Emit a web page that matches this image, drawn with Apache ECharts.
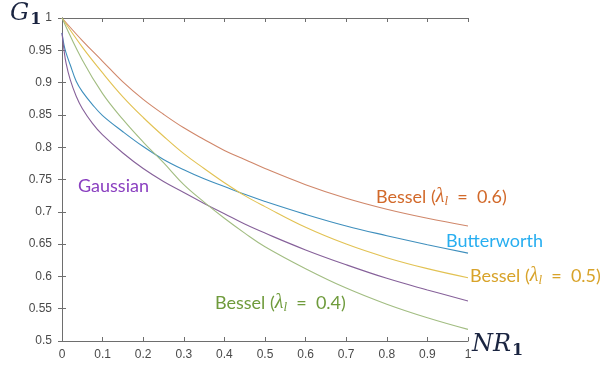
<!DOCTYPE html>
<html>
<head>
<meta charset="utf-8">
<script src="https://cdn.jsdelivr.net/npm/echarts@6/dist/echarts.min.js"></script>
<style>
html,body{margin:0;padding:0;background:#fff;}
#chart{width:611px;height:367px;}
</style>
</head>
<body>
<div id="chart"></div>
<script>
// x samples for curves that start at 1
var xA = [0, 0.05, 0.1, 0.15, 0.2, 0.25, 0.3, 0.35, 0.4, 0.45, 0.5, 0.6, 0.7, 0.8, 0.9, 1.0];
// x samples for curves with steep start
var xB = [0, 0.005, 0.01, 0.02, 0.035, 0.05, 0.075, 0.1, 0.15, 0.2, 0.25, 0.3, 0.35, 0.4, 0.45, 0.5, 0.6, 0.7, 0.8, 0.9, 1.0];

var besselP6 = [1, 0.965, 0.933, 0.901, 0.874, 0.851, 0.83, 0.812, 0.795, 0.781, 0.767, 0.742, 0.721, 0.704, 0.69, 0.678];
var besselP5 = [1, 0.955, 0.915, 0.878, 0.846, 0.817, 0.79, 0.767, 0.745, 0.725, 0.708, 0.676, 0.65, 0.629, 0.612, 0.598];
var besselP4 = [1, 0.935, 0.883, 0.843, 0.808, 0.776, 0.742, 0.715, 0.69, 0.667, 0.646, 0.612, 0.582, 0.557, 0.536, 0.518];
var butterworth = [0.977, 0.958, 0.946, 0.928, 0.902, 0.886, 0.866, 0.849, 0.824, 0.801, 0.781, 0.765, 0.751, 0.739, 0.727, 0.716, 0.696, 0.678, 0.663, 0.649, 0.636];
var gaussian = [0.977, 0.95, 0.93, 0.905, 0.879, 0.86, 0.837, 0.819, 0.791, 0.767, 0.747, 0.73, 0.713, 0.697, 0.681, 0.667, 0.641, 0.618, 0.597, 0.579, 0.562];

var xTicks = ['0','0.1','0.2','0.3','0.4','0.5','0.6','0.7','0.8','0.9','1'];
var yTicks = ['0.5','0.55','0.6','0.65','0.7','0.75','0.8','0.85','0.9','0.95','1'];

function pairs(xs, ys){ return xs.map(function(x,i){ return [x, ys[i]]; }); }

var chart = echarts.init(document.getElementById('chart'), null, {renderer:'canvas'});
var axisCol = '#6e6e6e';
var lblStyle = {color:'#4a4a4a', fontSize:12, fontFamily:'Liberation Sans, Arial, sans-serif'};

function mkLine(name, xs, ys, color){
  return {name:name, type:'line', xAxisIndex:0, yAxisIndex:0, data:pairs(xs, ys), showSymbol:false, symbol:'none',
    smooth:0.4, lineStyle:{color:color, width:1.1}, silent:true, animation:false};
}

function besselLabel(val, color){
  return {rich:{
    a:{fontFamily:'Lato, sans-serif', fontSize:18, fill:color},
    l:{fontFamily:'Liberation Serif, serif', fontStyle:'italic', fontSize:20, fill:color},
    s:{fontFamily:'Liberation Serif, serif', fontStyle:'italic', fontSize:13, fill:color, padding:[9,0,0,0]}
  }, text:'{a|Bessel (}{l|λ}{s|l}{a|  =  ' + val + ')}'};
}

var mathRich = {
  g:{fontFamily:'DejaVu Serif, serif', fontStyle:'italic', fontSize:24, fill:'#1a2440'},
  s:{fontFamily:'DejaVu Serif, serif', fontSize:16, fontWeight:'bold', fill:'#1a2440', padding:[12,0,0,1]}
};

var option = {
  animation:false,
  grid:{left:62, right:143, top:18, bottom:26},
  xAxis:[
    {type:'value', min:0, max:1, interval:0.1, position:'bottom',
     axisLine:{lineStyle:{color:axisCol, width:1}},
     axisTick:{inside:true, length:4, lineStyle:{color:axisCol}},
     splitLine:{show:false},
     axisLabel:Object.assign({margin:8, formatter:function(v){ var i=Math.round(v*10); return xTicks[i]||''; }}, lblStyle)},
    {type:'value', min:0, max:1, interval:0.1, position:'top',
     axisLine:{show:true, lineStyle:{color:axisCol, width:1}},
     axisTick:{show:true, inside:true, length:4, lineStyle:{color:axisCol}},
     splitLine:{show:false}, axisLabel:{show:false}}
  ],
  yAxis:[
    {type:'value', min:0.5, max:1, interval:0.05, position:'left',
     axisLine:{show:true, lineStyle:{color:axisCol, width:1}},
     axisTick:{show:true, inside:true, length:4, lineStyle:{color:axisCol}},
     splitLine:{show:false},
     axisLabel:Object.assign({margin:10, formatter:function(v){ var i=Math.round((v-0.5)/0.05); return yTicks[i]||''; }}, lblStyle)},
    {type:'value', min:0.5, max:1, interval:0.05, position:'right',
     axisLine:{show:true, lineStyle:{color:axisCol, width:1}},
     axisTick:{show:true, inside:true, length:4, lineStyle:{color:axisCol}},
     splitLine:{show:false}, axisLabel:{show:false}}
  ],
  series:[
    mkLine('Bessel 0.6', xA, besselP6, '#d0876a'),
    mkLine('Butterworth', xB, butterworth, '#3f8fbd'),
    mkLine('Bessel 0.5', xA, besselP5, '#e2c253'),
    mkLine('Gaussian', xB, gaussian, '#86619a'),
    mkLine('Bessel 0.4', xA, besselP4, '#a2bd82')
  ],
  graphic:[
    {type:'text', left:10, top:2, style:{rich:mathRich, text:'{g|G}{s|1}'}},
    {type:'text', left:472, top:333, style:{rich:mathRich, text:'{g|NR}{s|1}'}},
    {type:'text', left:78, top:177, style:{text:'Gaussian', font:'18px Lato, sans-serif', fill:'#8a3fc0'}},
    {type:'text', left:446, top:232, style:{text:'Butterworth', font:'18px Lato, sans-serif', fill:'#27aef0'}},
    {type:'text', left:376, top:187, style:besselLabel('0.6', '#d2692a')},
    {type:'text', left:470, top:266, style:besselLabel('0.5', '#d8a32a')},
    {type:'text', left:215, top:293, style:besselLabel('0.4', '#6f9b3c')}
  ]
};
chart.setOption(option);
</script>
</body>
</html>
